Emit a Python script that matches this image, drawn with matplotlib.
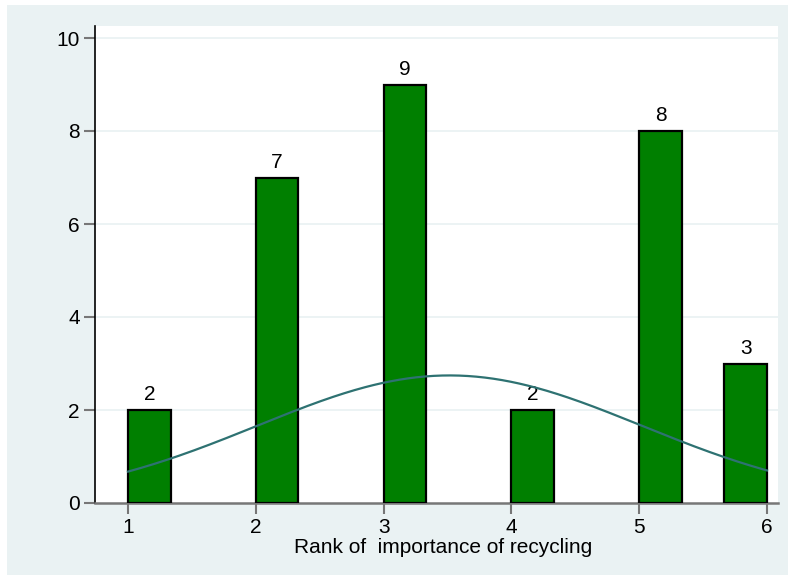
import numpy as np
import matplotlib
matplotlib.use('Agg')
import matplotlib.pyplot as plt
from matplotlib.patches import Rectangle

ranks = [1, 2, 3, 4, 5, 6]
counts = [2, 7, 9, 2, 8, 3]
bin_width = 1 / 3
bar_left = [1, 2, 3, 4, 5, 6 - bin_width]
y_ticks = [0, 2, 4, 6, 8, 10]
x_label = 'Rank of  importance of recycling'

plt.rcParams['font.family'] = ['Liberation Sans', 'DejaVu Sans']

BG = '#eaf2f3'

fig = plt.figure(figsize=(7.88, 5.75), dpi=100)
fig.patch.set_facecolor(BG)
# thin white margin along the top and left edges
fig.patches.append(Rectangle((0, 1 - 5 / 575), 1, 5 / 575, transform=fig.transFigure,
                             facecolor='white', edgecolor='none', zorder=-1))
fig.patches.append(Rectangle((0, 0), 7 / 788, 1, transform=fig.transFigure,
                             facecolor='white', edgecolor='none', zorder=-1))
ax = fig.add_axes([95 / 788, 1 - 503 / 575, (778 - 95) / 788, (503 - 26) / 575])
ax.set_facecolor('white')

ax.bar(bar_left, counts, width=bin_width, align='edge', color='#007f00',
       edgecolor='black', linewidth=1.6, zorder=3)
for left, c in zip(bar_left, counts):
    ax.text(left + bin_width / 2, c + 0.12, str(c), ha='center', va='bottom',
            fontsize=15, zorder=4)

# normal density scaled to frequency
vals = np.repeat(ranks, counts)
mu = vals.mean()
sd = vals.std(ddof=1)
n = len(vals)
xs = np.linspace(1, 6, 300)
ys = n * bin_width / (sd * np.sqrt(2 * np.pi)) * np.exp(-0.5 * ((xs - mu) / sd) ** 2)
ax.plot(xs, ys, color='#2e7272', linewidth=1.6, zorder=5)

ax.set_xlim(1 - 33 / 127.8, 6 + 11 / 127.8)
ax.set_ylim(0, 10 + 12 / 46.5)
ax.set_xticks(ranks)
ax.set_yticks(y_ticks)
for t in y_ticks[1:]:
    ax.axhline(t, color=BG, linewidth=1.3, zorder=1)

for s in ['top', 'right']:
    ax.spines[s].set_visible(False)
ax.spines['left'].set_color('black')
ax.spines['left'].set_linewidth(1.2)
ax.spines['bottom'].set_color('#777777')
ax.spines['bottom'].set_linewidth(1.8)
ax.tick_params(axis='both', colors='#777777', length=8, width=1.5, labelsize=15,
               labelcolor='black', pad=3)
ax.set_xlabel(x_label, fontsize=15, labelpad=0)
ax.xaxis.set_label_coords(0.509, -0.073)

fig.savefig('out.png', dpi=100, facecolor=fig.get_facecolor())
